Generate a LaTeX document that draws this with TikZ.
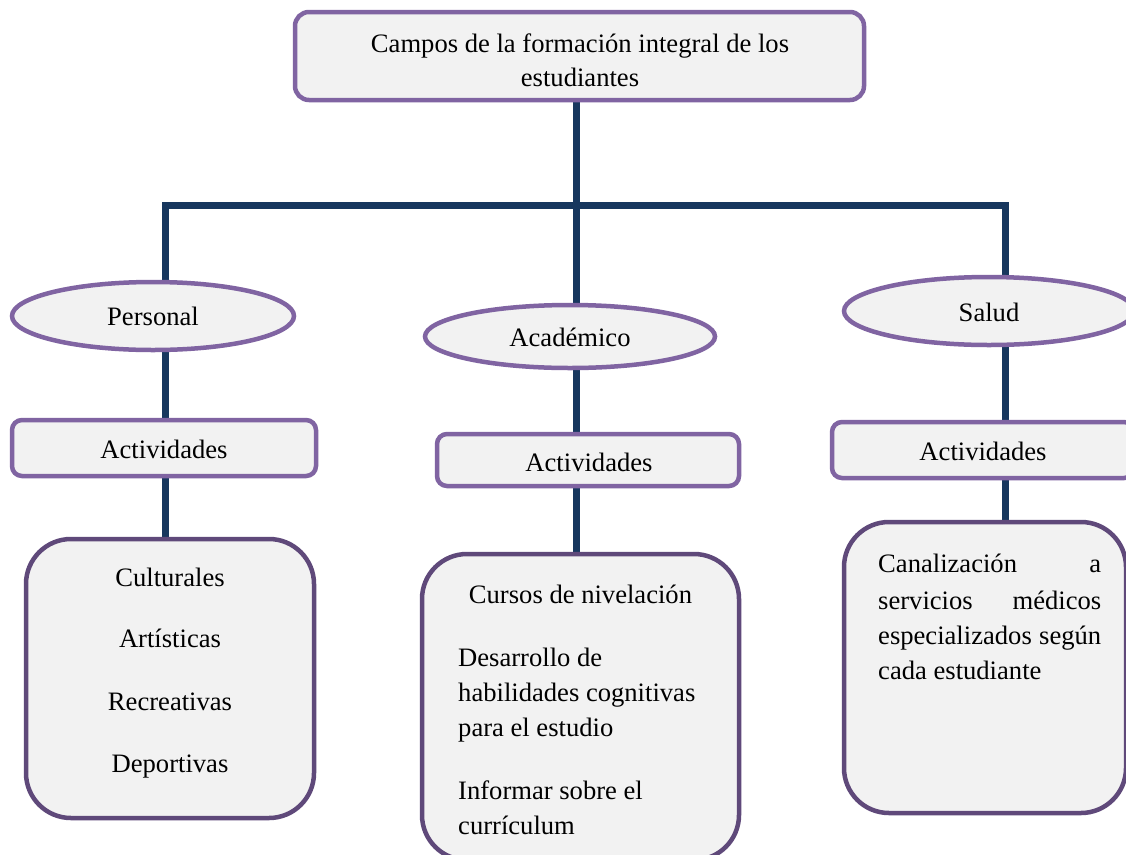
\documentclass[tikz,border=0pt]{standalone}
\usepackage{fontspec}
\setmainfont{Liberation Serif}
\usetikzlibrary{shapes.geometric,backgrounds}
\definecolor{purp}{HTML}{8064A2}
\definecolor{dpurp}{HTML}{5F497A}
\definecolor{navy}{HTML}{17375E}
\definecolor{boxfill}{HTML}{F2F2F2}
\tikzset{
  txt/.style={font=\fontsize{26.6}{36}\selectfont, inner sep=0pt, anchor=base},
  topbox/.style={draw=purp, line width=4.5pt, fill=boxfill, rounded corners=14pt, inner sep=0pt},
  oval/.style={ellipse, draw=purp, line width=4.5pt, fill=boxfill, inner sep=0pt},
  actbox/.style={draw=purp, line width=4.5pt, fill=boxfill, rounded corners=10pt, inner sep=0pt},
  bigbox/.style={draw=dpurp, line width=4.5pt, fill=boxfill, rounded corners=45pt, inner sep=0pt},
  link/.style={draw=navy, line width=7pt},
}
\begin{document}
\begin{tikzpicture}[x=1pt,y=-1pt]
\useasboundingbox (0,0) rectangle (1126,854);
\clip (0,0) rectangle (1126,854);

% shapes
\node[topbox, minimum width=569pt, minimum height=88pt] (top) at (579.5,56) {};
\node[oval, minimum width=282pt, minimum height=68pt] (per) at (153,316) {};
\node[oval, minimum width=290pt, minimum height=63pt] (aca) at (570,336.5) {};
\node[oval, minimum width=290pt, minimum height=68pt] (sal) at (989,311) {};
\node[actbox, minimum width=304pt, minimum height=56pt] (actL) at (164,448) {};
\node[actbox, minimum width=302pt, minimum height=52pt] (actM) at (588,460) {};
\node[actbox, minimum width=302pt, minimum height=56pt] (actR) at (983,450) {};
\node[bigbox, minimum width=288pt, minimum height=279pt] (bigL) at (170,678.5) {};
\node[bigbox, minimum width=317pt, minimum height=306pt] (bigM) at (580.5,707) {};
\node[bigbox, minimum width=282pt, minimum height=291pt] (bigR) at (985,667.5) {};

% connectors
\coordinate (jl) at (165,205);
\coordinate (jm) at (576,205);
\coordinate (jr) at (1005,205);
\begin{scope}[on background layer]
  \fill[white] (0,0) rectangle (1126,854);
  \draw[link, line join=miter] (jl |- bigL.north) -- (jl) -- (jr) -- (jr |- bigR.north);
  \draw[link] (jm |- top.south) -- (jm |- bigM.north);
\end{scope}

% texts
\node[txt] (t1) at (580,52) {Campos de la formación integral de los};
\node[txt] (t2) at (580,86) {estudiantes};
\node[txt] (tper) at (153,325) {Personal};
\node[txt] (taca) at (570,346) {Académico};
\node[txt] (tsal) at (989,321) {Salud};
\node[txt] (taL) at (164,458) {Actividades};
\node[txt] (taM) at (589,471) {Actividades};
\node[txt] (taR) at (983,460) {Actividades};

\node[txt] (l1) at (170,586) {Culturales};
\node[txt] (l2) at (170,647) {Artísticas};
\node[txt] (l3) at (170,710) {Recreativas};
\node[txt] (l4) at (170,772) {Deportivas};

\node[txt] (m0) at (580.5,603) {Cursos de nivelación};
\node[txt, anchor=base west] (m1) at (458,666) {Desarrollo de};
\node[txt, anchor=base west] (m2) at (458,701) {habilidades cognitivas};
\node[txt, anchor=base west] (m3) at (458,736) {para el estudio};
\node[txt, anchor=base west] (m4) at (458,799) {Informar sobre el};
\node[txt, anchor=base west] (m5) at (458,834) {currículum};

\node[txt, anchor=base west] (r1) at (878,572) {\hbox to 223pt{Canalización\hfill a}};
\node[txt, anchor=base west] (r2) at (878,609) {\hbox to 223pt{servicios\hfill médicos}};
\node[txt, anchor=base west] (r3) at (878,644) {\hbox to 223pt{especializados\hfill según}};
\node[txt, anchor=base west] (r4) at (878,679) {cada estudiante};
\end{tikzpicture}
\end{document}
